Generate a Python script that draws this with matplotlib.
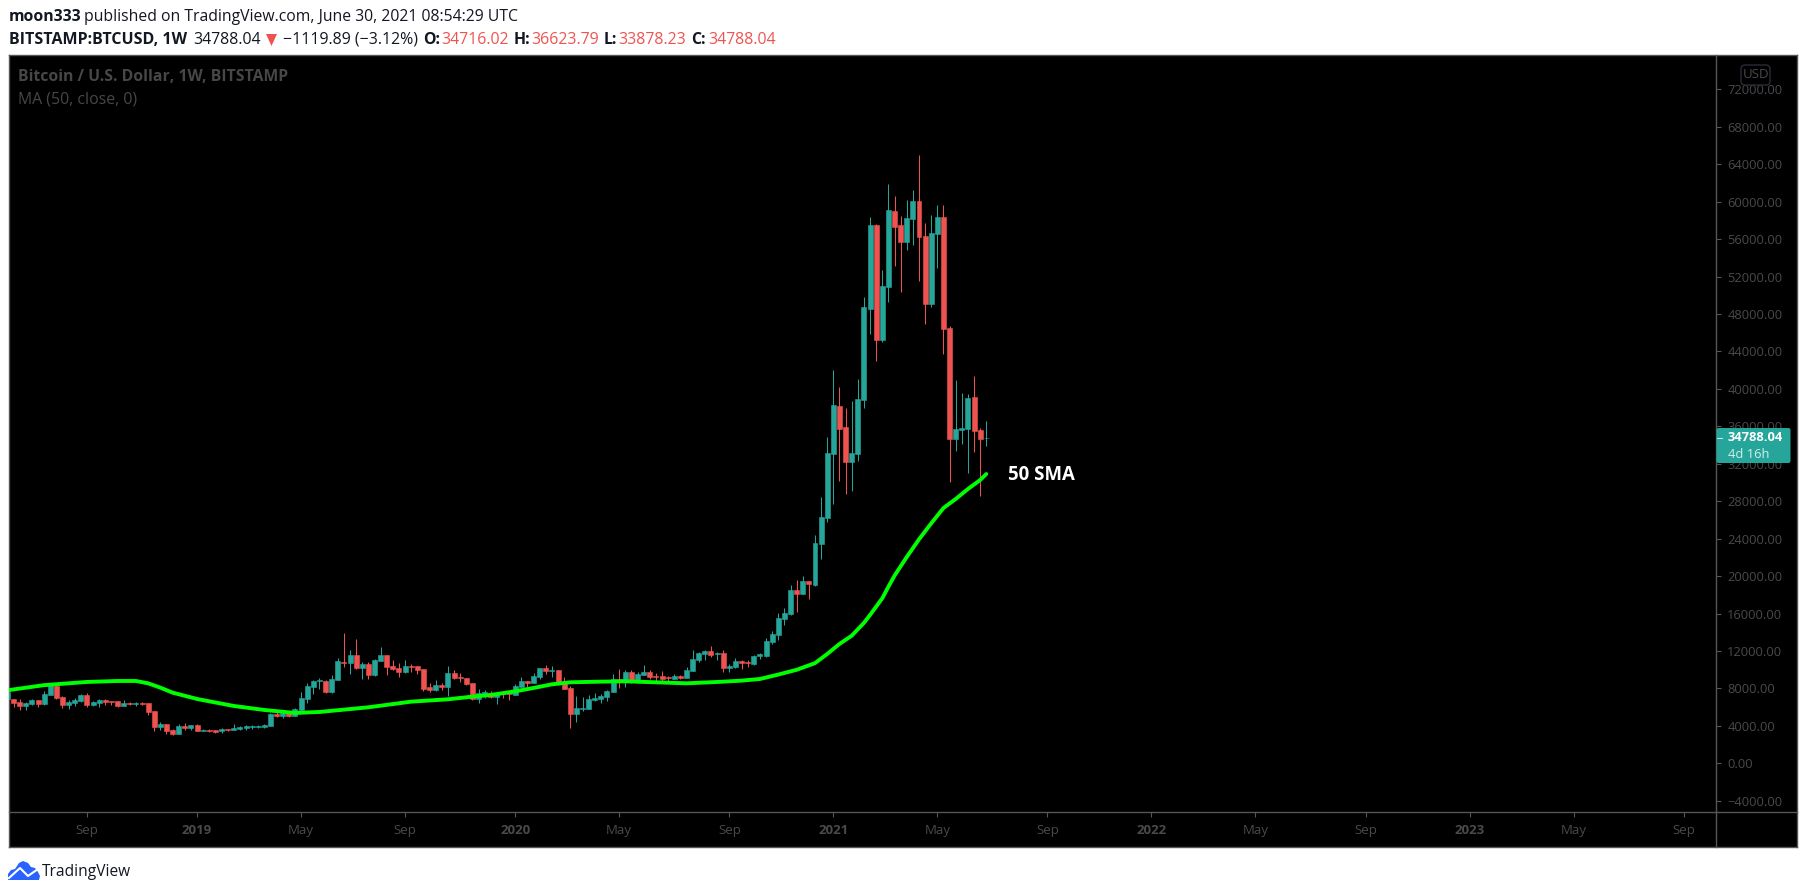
import matplotlib
matplotlib.use("Agg")
import matplotlib.pyplot as plt
import matplotlib.dates as mdates
from matplotlib.patches import Polygon, Rectangle, FancyBboxPatch
from matplotlib.lines import Line2D
import pandas as pd

W, H = 1805, 894
FONT = "Open Sans"
plt.rcParams["font.family"] = [FONT, "DejaVu Sans"]

open_ = [6840,
 6910,6550,6130,6370,6770,6340,7340,8300,7090,6270,6480,6660,7300,6230,6480,6770,6660,6620,6130,6450,
 6370,6480,6410,5560,3920,4170,3530,3140,3990,3810,4060,3490,3600,3530,3420,3630,3600,3670,3740,3880,
 3920,3920,3990,5240,5060,5340,5090,5660,6870,8150,8800,8800,7620,8900,10860,10720,11570,10180,10610,9440,
 10930,11570,10400,10180,9760,10430,10400,10080,8150,7830,8370,8150,
 9650,9220,9120,8580,6910,7300,7480,7090,7620,7480,7300,8150,8800,8580,9220,10180,9860,9970,8580,8050,
 5270,5810,5810,6770,6870,7090,7620,8970,8690,9760,8690,9440,9760,9330,9330,9190,9010,9330,9120,9860,
 11040,11680,12000,11640,11790,10180,10290,10930,10820,10610,11470,
 11470,12960,13710,15420,15950,18520,18090,19480,19050,23430,26210,
 33050,38180,35930,32190,33050,38820,48540,57510,45230,50890,59010,57510,55700,58150,60080,56340,49070,56550,
 58370,46510,34650,35610,35720,39140,35610,34716.02]
high = [7800,
 6910,6870,6520,6870,6770,7730,8550,8370,7190,6730,6940,7410,7480,6620,6870,6870,6700,6660,6770,6520,
 6590,6590,6410,5590,4420,4200,3630,4170,4310,4130,4170,3700,3700,3600,3740,3700,4200,3990,4060,4130,
 4100,4200,5380,5480,5700,5590,5950,7620,8550,8900,9120,8870,9440,11250,13920,12110,13280,10790,10860,11180,
 12430,11570,11040,10680,11040,10650,10400,10080,8550,8900,8550,10400,
 9970,9650,9120,8580,7940,7800,7690,7590,7690,7590,8480,9220,8800,9650,10180,10500,10400,9970,9220,8260,
 7190,7090,7300,7510,7410,7830,9540,10080,9970,9970,9760,10500,9970,9650,9860,9330,9540,9440,10290,12110,
 11890,12110,12530,11890,12110,10610,11250,11040,11040,11570,11790,
 13390,14140,16060,16590,19050,19590,20010,19480,24390,28450,34860,
 42020,40210,37960,38710,41060,49820,58370,57620,52700,61890,60610,58470,60180,61250,64990,57730,58580,59650,
 59650,46720,40950,39560,39460,41380,35830,36623.79]
low = [6760,
 6050,5700,5700,6230,6020,6230,7300,6910,5880,5840,6130,6590,6020,6130,6020,6270,6230,6020,6090,6270,
 6130,6230,5160,3460,3530,3170,3030,3100,3560,3560,3460,3460,3350,3240,3280,3460,3560,3560,3600,3700,
 3810,3780,3990,4920,4880,4990,5060,5590,6410,7410,7940,7480,7550,8900,10330,9540,10080,9010,9010,9370,
 10900,9440,9970,9220,9690,9760,9540,7760,7620,7760,7800,7160,
 8970,8650,8370,6770,6450,6980,6980,6340,6980,6770,7260,8120,8150,8550,9010,9540,9220,8370,7940,3780,
 4420,5590,5810,6660,6450,6660,7590,8050,8150,8620,8580,9440,9010,8800,8800,8800,8970,9010,9120,9860,
 10820,11040,11360,11040,9760,9760,10180,10080,10290,10500,11150,
 11360,12750,13180,14780,15850,16170,18090,17560,18940,21830,25780,
 27710,30160,28770,29090,32300,37960,45870,42980,45010,49290,53130,50350,54840,55380,51530,46940,48750,52920,
 43730,30060,33370,34120,31020,33260,28560,33878.23]
close = [7660,
 6480,6130,6450,6770,6370,7410,8370,7020,6270,6590,6770,7300,6230,6550,6770,6590,6550,6130,6450,6370,
 6450,6370,5480,3920,4200,3490,3140,3950,3810,4060,3490,3600,3490,3380,3630,3560,3810,3880,3950,3990,
 4030,4100,5270,5060,5410,5060,5810,6980,8260,8800,8870,7590,9010,10930,10750,11570,10150,10610,9440,11040,
 11570,10290,10080,9760,10400,10330,9970,7940,7830,8370,8190,9650,
 9120,9080,8480,6910,7480,7590,7090,7510,7370,7410,8260,8800,8580,9330,10180,9860,9930,8480,7940,5270,
 5910,5910,6870,6980,7190,7730,8970,8690,9760,8690,9540,9760,9190,9190,9010,9080,9330,9120,9970,11150,
 11790,12000,11570,11790,10180,10360,10930,10720,10720,11470,11680,
 13070,13820,15530,16060,18520,18090,19480,19160,23540,26320,33150,
 38280,35720,32190,33150,38920,48750,57510,45230,51000,59110,57300,55700,58260,60080,56230,49070,56660,58370,
 46400,34650,35720,35830,39030,35510,34650,34788.04]

sma_weeks_back = [160,154,147,142,139,137,135,133,129,123,118,113,109,101,94,88,84,81,77,74,71,68,63,59,54,49,44,40,
                  37,34,31,28,26,24,22,20,19,17,16,15,13,11,9,7,5,3,1,0]
sma_values = [7800,8350,8690,8795,8795,8546,8083,7549,6873,6125,5698,5378,5484,5983,6588,6837,7122,7300,7692,8048,8439,
              8653,8724,8760,8653,8546,8688,8831,9008,9480,9990,10700,11680,12750,13630,15000,15850,17630,18870,20047,
              22040,23928,25637,27275,28237,29305,30267,30908]

price_ticks = [-4000,0,4000,8000,12000,16000,20000,24000,28000,32000,36000,40000,44000,48000,52000,56000,60000,64000,68000,72000]
price_labels = ["\u22124000.00","0.00","4000.00","8000.00","12000.00","16000.00","20000.00","24000.00","28000.00","32000.00",
                "36000.00","40000.00","44000.00","48000.00","52000.00","56000.00","60000.00","64000.00","68000.00","72000.00"]
time_ticks = ["2018-09-03","2019-01-07","2019-05-06","2019-09-02","2020-01-06","2020-05-04","2020-09-07","2021-01-04",
              "2021-05-03","2021-09-06","2022-01-03","2022-05-02","2022-09-05","2023-01-02","2023-05-01","2023-09-04"]
time_labels = ["Sep","2019","May","Sep","2020","May","Sep","2021","May","Sep","2022","May","Sep","2023","May","Sep"]

N = len(close)
assert len(open_) == N and len(high) == N and len(low) == N, (len(open_), len(high), len(low), N)

TEAL, RED, DIM, EDGE = "#26a69a", "#ef5350", "#4a4a4a", "#565656"
fig = plt.figure(figsize=(W / 100, H / 100), dpi=100, facecolor="white")

def rect(l, t, r, b):
    return [l / W, 1 - b / H, (r - l) / W, (b - t) / H]

AL, AR, AT, AB = 8.7, 1716.3, 55.0, 812.0
FR, FB = 1796.7, 847.0

bg = fig.add_axes(rect(AL, AT, FR, FB), facecolor="black", zorder=0)
bg.set_xticks([]); bg.set_yticks([])
for s in bg.spines.values():
    s.set_color(EDGE); s.set_linewidth(1.0)

ax = fig.add_axes(rect(AL, AT, AR, AB), zorder=1)
ax.patch.set_alpha(0)
dates = pd.date_range(end="2021-06-28", periods=N, freq="7D")
x = mdates.date2num(dates)
last = x[-1]
BAR_PX = 6.118
LAST_PX = 986.3
ax.set_xlim(last + (AL - LAST_PX) / BAR_PX * 7, last + (AR - LAST_PX) / BAR_PX * 7)
SLOPE = 0.00936
ax.set_ylim((763.3 - AB) / SLOPE, (763.3 - AT) / SLOPE)

cols = [TEAL if c >= o else RED for o, c in zip(open_, close)]
ax.vlines(x, low, high, colors=cols, linewidth=0.72, zorder=2)
ax.bar(x, [c - o for o, c in zip(open_, close)], bottom=open_, width=5.7, color=cols,
       edgecolor=cols, linewidth=0.4, zorder=3)

sma_x = [last - 7 * b for b in sma_weeks_back]
ax.plot(sma_x, sma_values, color="#00ff00", linewidth=2.8, solid_capstyle="round", solid_joinstyle="round", zorder=4)

ax.yaxis.tick_right()
ax.set_yticks(price_ticks)
ax.set_yticklabels(price_labels, fontsize=9.3, color=DIM, ha="left")
ax.set_xticks(mdates.date2num(pd.to_datetime(time_ticks)))
ax.set_xticklabels(time_labels, fontsize=9.5, color=DIM)
for lab in ax.get_xticklabels():
    if lab.get_text().isdigit():
        lab.set_fontweight("bold")
ax.tick_params(axis="y", length=3.6, width=0.8, color=EDGE, pad=4.3)
ax.tick_params(axis="x", length=3.6, width=0.8, color=EDGE, pad=5.2)
for k, s in ax.spines.items():
    s.set_visible(k in ("bottom", "right"))
    s.set_color(EDGE); s.set_linewidth(1.0)

ov = fig.add_axes([0, 0, 1, 1], zorder=2)
ov.set_xlim(0, W); ov.set_ylim(H, 0)
ov.axis("off")

def put(px, py, s, color="#131722", size=11, weight="normal", ha="left"):
    return ov.text(px, py, s, color=color, fontsize=size, fontweight=weight, ha=ha, va="center", family=FONT)

ov.add_line(Line2D([AR, FR], [AB, AB], color=EDGE, lw=1.0))
ov.add_line(Line2D([AR, AR], [AB, FB], color=EDGE, lw=1.0))

# header
put(9, 17, "moon333", weight="bold", size=11.3)
put(84, 17, "published on TradingView.com, June 30, 2021 08:54:29 UTC", size=11.3)
put(9, 40, "BITSTAMP:BTCUSD, 1W", weight="bold", size=11.5)
put(193, 40, "34788.04", size=11.4)
ov.add_patch(Polygon([[266, 34], [277, 34], [271.5, 46]], closed=True, color=RED, lw=0))
put(283, 40, "\u22121119.89 (\u22123.12%)", size=11.4)
for lx, vx, l, v in [(423, 441, "O:", "34716.02"), (514, 531, "H:", "36623.79"),
                     (604, 618, "L:", "33878.23"), (691, 708, "C:", "34788.04")]:
    put(lx, 40, l, weight="bold", size=11.4)
    put(vx, 40, v, color=RED, size=11.4)

# watermark texts
put(18, 77, "Bitcoin / U.S. Dollar, 1W, BITSTAMP", color="#474747", weight="bold", size=11.3)
put(18, 100, "MA (50, close, 0)", color="#474747", size=11.4)
put(1008, 475, "50 SMA", color="white", weight="bold", size=13.4)

# USD badge
ov.add_patch(FancyBboxPatch((1741, 65), 29, 20, boxstyle="round,pad=0,rounding_size=4", fc="black", ec="#2b2b38", lw=1))
put(1755.5, 74.5, "USD", color=DIM, size=9.5, ha="center")

# last price tag
ov.add_patch(FancyBboxPatch((1716.5, 428), 74, 35, boxstyle="round,pad=0,rounding_size=2", fc=TEAL, ec="none"))
ov.add_line(Line2D([1717, 1722], [437.5, 437.5], color="#d0f0ec", lw=0.7))
put(1728, 437.5, "34788.04", color="white", weight="bold", size=9.3)
put(1728, 454, "4d 16h", color="#d3eeeb", size=9.3)

# logo
cloud = [[8, 880], [8, 874], [11, 870], [15, 869], [19, 863], [23, 861], [28, 863], [31, 867], [35, 868],
         [38, 872], [40, 876], [39, 880]]
ov.add_patch(Polygon(cloud, closed=True, fc="#2962ff", ec="none"))
ov.add_line(Line2D([9, 20, 28, 38], [878, 868, 876, 869], color="white", lw=1.5))
put(42, 872.5, "TradingView", color="#131722", size=11.2)

fig.savefig("out.png", dpi=100, facecolor="white")
